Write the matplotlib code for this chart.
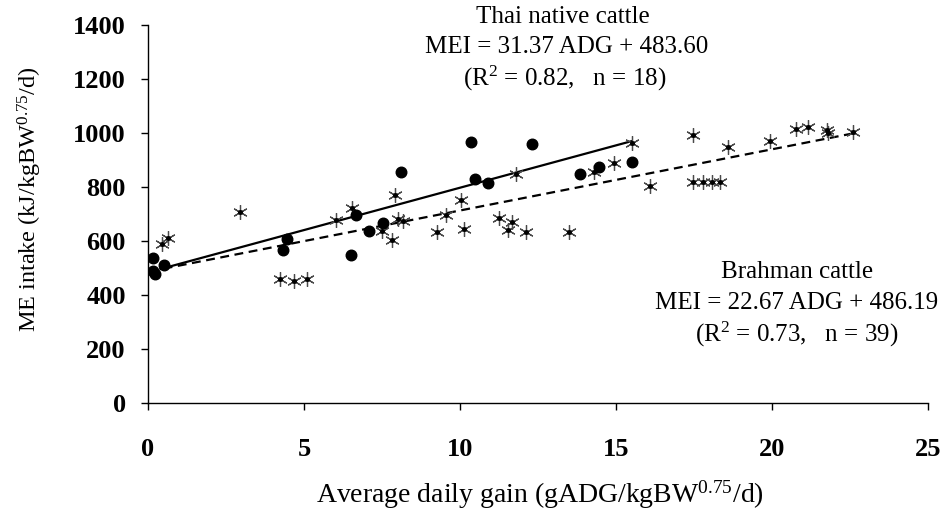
import matplotlib
matplotlib.use("Agg")
import matplotlib.pyplot as plt
import numpy as np

plt.rcParams["font.family"] = ["Liberation Serif", "DejaVu Serif"]
plt.rcParams["mathtext.fontset"] = "custom"
plt.rcParams["mathtext.rm"] = "Liberation Serif"
plt.rcParams["mathtext.it"] = "Liberation Serif:italic"
plt.rcParams["mathtext.bf"] = "Liberation Serif:bold"

# Thai native cattle (filled circles)
thai_adg = [0.16, 0.16, 0.22, 0.51, 4.46, 4.33, 6.5, 6.67, 7.08, 7.53,
            8.1, 10.35, 10.48, 10.9, 12.3, 13.85, 14.46, 15.5]
thai_mei = [537, 489, 478, 511, 607, 566, 548, 696, 637, 667,
            856, 967, 830, 815, 959, 848, 874, 893]

# Brahman cattle (asterisks)
brah_adg = [0.45, 0.64, 2.95, 4.23, 4.68, 5.1, 6.03, 6.54, 7.92, 7.5,
            7.82, 8.01, 8.17, 9.55, 9.26, 10.03, 10.13, 11.25, 11.54, 11.67,
            11.8, 12.12, 13.5, 14.3, 14.94, 15.5, 16.1, 17.47, 17.79, 18.08,
            18.33, 17.47, 18.59, 19.94, 20.77, 21.15, 21.76, 21.8, 22.6]
brah_mei = [589, 611, 707, 459, 452, 459, 678, 722, 770, 637,
            604, 682, 674, 696, 633, 752, 644, 685, 641, 670,
            848, 633, 633, 856, 889, 963, 804, 818, 818, 818,
            818, 993, 948, 970, 1015, 1022, 1011, 1000, 1004]

# Regression equations
thai_slope, thai_icpt = 31.37, 483.60
brah_slope, brah_icpt = 22.67, 486.19
thai_range = [0.4, 15.5]
brah_range = [0.5, 22.7]

x_ticks = [0, 5, 10, 15, 20, 25]
y_ticks = [0, 200, 400, 600, 800, 1000, 1200, 1400]

fig = plt.figure(figsize=(9.47, 5.14), dpi=100)
ax = fig.add_axes([0.1563, 0.2160, 0.98 - 0.1563, 0.9514 - 0.2160])

# fitted lines
xs = np.array(thai_range)
ax.plot(xs, thai_slope * xs + thai_icpt, color="black", lw=1.6, zorder=2)
xb = np.array(brah_range)
ax.plot(xb, brah_slope * xb + brah_icpt, color="black", lw=1.6,
        ls=(0, (4, 2.5)), zorder=2)

# Brahman asterisks
ax.plot(brah_adg, brah_mei, ls="none", marker=(6, 2, 0), markersize=10.5,
        markeredgecolor="#4a4a4a", markeredgewidth=0.9, zorder=3)
ax.plot(brah_adg, brah_mei, ls="none", marker="o", markersize=2.6,
        color="black", zorder=3)

# Thai native circles
ax.plot(thai_adg, thai_mei, ls="none", marker="o", markersize=7.6,
        color="black", zorder=4)

ax.set_xlim(0, 25)
ax.set_ylim(0, 1400)
ax.set_xticks(x_ticks)
ax.set_yticks(y_ticks)
ax.spines["top"].set_visible(False)
ax.spines["right"].set_visible(False)
for s in ("left", "bottom"):
    ax.spines[s].set_linewidth(1.0)
ax.tick_params(axis="x", direction="out", length=5, width=1.0, pad=20,
               labelsize=19)
ax.tick_params(axis="y", direction="out", length=5, width=1.0, pad=11,
               labelsize=19)
for lab in ax.get_xticklabels() + ax.get_yticklabels():
    lab.set_fontweight("bold")

ax.set_xlabel(r"Average daily gain (gADG/kgBW$^{0.75}$/d)", fontsize=20,
              va="center")
ax.xaxis.set_label_coords(0.5026, -0.243)
ax.set_ylabel(r"ME intake (kJ/kgBW$^{0.75}$/d)", fontsize=17.5,
              va="center")
ax.yaxis.set_label_coords(-0.152, 0.54)

fig.text(563 / 947, 1 - 17 / 514, "Thai native cattle", fontsize=18,
         ha="center", va="center")
fig.text(567 / 947, 1 - 47 / 514, "MEI = 31.37 ADG + 483.60", fontsize=18,
         ha="center", va="center")
fig.text(565 / 947, 1 - 78 / 514, r"(R$^2$ = 0.82,   n = 18)", fontsize=18,
         ha="center", va="center")

fig.text(797 / 947, 1 - 272 / 514, "Brahman cattle", fontsize=18,
         ha="center", va="center")
fig.text(797 / 947, 1 - 303 / 514, "MEI = 22.67 ADG + 486.19", fontsize=18,
         ha="center", va="center")
fig.text(797 / 947, 1 - 334 / 514, r"(R$^2$ = 0.73,   n = 39)", fontsize=18,
         ha="center", va="center")

fig.savefig("out.png", dpi=100)
